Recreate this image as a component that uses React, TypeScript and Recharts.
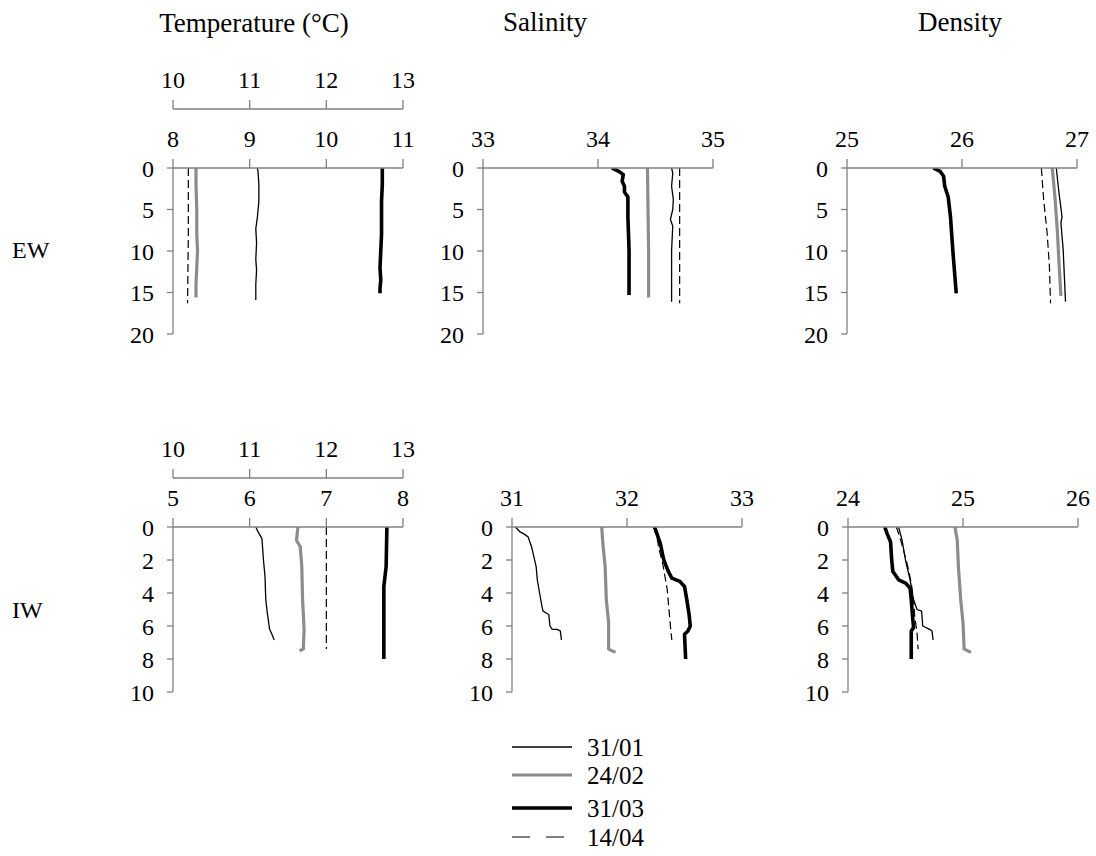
import React from "react"
import { LineChart, Line, XAxis, YAxis } from "recharts"

// [depth (m), value]
type Pt = [number, number]

const DATES = ["31/01", "24/02", "31/03", "14/04"]

// ---- EW ----
const ewTemp3101: Pt[] = [[0, 9.1], [0.5, 9.11], [2, 9.12], [4, 9.12], [5, 9.11], [6, 9.1], [7.3, 9.08], [9, 9.09], [11, 9.08], [12.3, 9.09], [14, 9.08], [15.9, 9.08]]
const ewTemp2402: Pt[] = [[0, 8.3], [2, 8.3], [5, 8.31], [8, 8.31], [10, 8.32], [12, 8.31], [14, 8.3], [15.6, 8.3]]
const ewTemp3103: Pt[] = [[0, 10.73], [2, 10.73], [4, 10.72], [6, 10.72], [8, 10.72], [10, 10.71], [12, 10.7], [13.5, 10.71], [14.5, 10.7], [15.1, 10.7]]
const ewTemp1404: Pt[] = [[0, 10.2], [8, 10.2], [16.3, 10.19]] // read on the 10-13 scale

const ewSal3101: Pt[] = [[0, 34.64], [0.6, 34.65], [2.2, 34.64], [3.8, 34.655], [5, 34.65], [6.2, 34.63], [7, 34.65], [9.9, 34.64], [13, 34.64], [16.1, 34.64]]
const ewSal2402: Pt[] = [[0, 34.43], [5, 34.435], [10, 34.44], [15.6, 34.44]]
const ewSal3103: Pt[] = [[0, 34.12], [0.4, 34.18], [0.8, 34.22], [1.6, 34.21], [2.2, 34.23], [2.9, 34.23], [3.5, 34.26], [5.9, 34.26], [9.9, 34.27], [15.3, 34.27]]
const ewSal1404: Pt[] = [[0, 34.71], [5, 34.71], [10, 34.71], [16.3, 34.71]]

const ewDens3101: Pt[] = [[0, 26.82], [2.6, 26.84], [5.9, 26.87], [6.6, 26.86], [9.9, 26.88], [13, 26.89], [16.1, 26.9]]
const ewDens2402: Pt[] = [[0, 26.785], [3.8, 26.81], [7.8, 26.83], [11.8, 26.845], [15.4, 26.86]]
const ewDens3103: Pt[] = [[0, 25.75], [0.4, 25.81], [1, 25.84], [2.2, 25.85], [3.5, 25.88], [5.9, 25.9], [9.9, 25.92], [15.1, 25.95]]
const ewDens1404: Pt[] = [[0, 26.69], [3.8, 26.71], [7.8, 26.74], [11.8, 26.76], [16.3, 26.77]]

// ---- IW ----
const iwTemp3101: Pt[] = [[0, 6.08], [0.3, 6.11], [0.7, 6.16], [2, 6.18], [3, 6.2], [4.4, 6.21], [5.2, 6.23], [6.2, 6.26], [6.5, 6.29], [6.85, 6.32]]
const iwTemp2402: Pt[] = [[0, 6.63], [0.8, 6.61], [1.2, 6.66], [2.4, 6.68], [4.4, 6.69], [6.2, 6.71], [7.4, 6.7], [7.5, 6.65]]
const iwTemp3103: Pt[] = [[0, 7.79], [2.4, 7.78], [3.6, 7.75], [6.4, 7.75], [8, 7.75]]
const iwTemp1404: Pt[] = [[0, 12.0], [3.7, 12.0], [7.4, 12.0]] // read on the 10-13 scale

const iwSal3101: Pt[] = [[0, 31.03], [0.3, 31.07], [0.4, 31.1], [0.6, 31.14], [1.2, 31.17], [1.8, 31.19], [2.4, 31.21], [3.2, 31.22], [4, 31.24], [4.8, 31.26], [5.1, 31.27], [5.3, 31.32], [6, 31.33], [6.2, 31.35], [6.2, 31.39], [6.3, 31.42], [6.85, 31.43]]
const iwSal2402: Pt[] = [[0, 31.78], [1, 31.79], [2.4, 31.81], [4.4, 31.82], [5.8, 31.84], [7.4, 31.84], [7.6, 31.9]]
const iwSal3103: Pt[] = [[0, 32.24], [0.4, 32.26], [1, 32.29], [2, 32.32], [2.7, 32.36], [3.1, 32.39], [3.3, 32.46], [3.6, 32.5], [4.4, 32.52], [5.3, 32.54], [6, 32.55], [6.3, 32.53], [6.5, 32.5], [8, 32.51]]
const iwSal1404: Pt[] = [[0, 32.23], [0.6, 32.26], [1.4, 32.28], [2.2, 32.31], [3, 32.33], [3.8, 32.35], [4.6, 32.36], [5.4, 32.37], [6.2, 32.38], [6.85, 32.39]]

const iwDens3101: Pt[] = [[0, 24.44], [0.8, 24.47], [2, 24.5], [3.2, 24.54], [4.4, 24.57], [5, 24.6], [5.1, 24.64], [6, 24.65], [6.2, 24.71], [6.3, 24.73], [6.85, 24.74]]
const iwDens2402: Pt[] = [[0, 24.93], [0.8, 24.95], [2.4, 24.96], [4.4, 24.98], [5.8, 25.0], [7.4, 25.01], [7.6, 25.07]]
const iwDens3103: Pt[] = [[0, 24.32], [0.4, 24.34], [0.9, 24.37], [2, 24.38], [2.7, 24.39], [3.2, 24.44], [3.4, 24.5], [3.7, 24.54], [4.4, 24.55], [5.3, 24.56], [6.1, 24.57], [6.3, 24.55], [7.2, 24.55], [8, 24.55]]
const iwDens1404: Pt[] = [[0, 24.42], [0.6, 24.45], [1.6, 24.49], [2.4, 24.52], [3.4, 24.55], [4.4, 24.57], [5.4, 24.58], [6.4, 24.6], [7.4, 24.61]]

// axis ticks
const tempEwTicks = [8, 9, 10, 11]
const tempIwTicks = [5, 6, 7, 8]
const tempUpperTicks = [10, 11, 12, 13]
const salEwTicks = [33, 34, 35]
const salIwTicks = [31, 32, 33]
const densEwTicks = [25, 26, 27]
const densIwTicks = [24, 25, 26]
const ewDepthTicks = [0, 5, 10, 15, 20]
const iwDepthTicks = [0, 2, 4, 6, 8, 10]

const STYLE: Record<string, { stroke: string; width: number; dash?: string }> = {
  "31/01": { stroke: "#000", width: 1.3 },
  "24/02": { stroke: "#8c8c8c", width: 3.2 },
  "31/03": { stroke: "#000", width: 3.6 },
  "14/04": { stroke: "#000", width: 1.2, dash: "8 4" },
}

const FONT = "'Liberation Serif', 'Times New Roman', serif"
const AXIS = { stroke: "#808080", strokeWidth: 1.3 }
const TICK = { fill: "#000", fontSize: 24, fontFamily: FONT }

const rows = (pts: Pt[]) => pts.map(([depth, v]) => ({ depth, v }))

interface PanelProps {
  left: number // x of the y axis
  top: number // y of the lower x axis
  plotH: number
  domain: [number, number]
  ticks: number[]
  depthMax: number
  depthTicks: number[]
  series: Pt[][] // in DATES order
  upperIdx?: number // series read on the upper scale
  lowH: number
  upH?: number
}

const YW = 70
const PLOT_W = 230
const M = { top: 14, right: 26, bottom: 24 }

function Panel({ left, top, plotH, domain, ticks, depthMax, depthTicks, series, upperIdx, lowH, upH = 0 }: PanelProps) {
  const hasUpper = upperIdx !== undefined
  const topH = lowH + (hasUpper ? upH : 0)
  return (
    <div style={{ position: "absolute", left: left - YW, top: top - topH - M.top }}>
      <LineChart
        width={YW + PLOT_W + M.right}
        height={M.top + topH + plotH + M.bottom}
        layout="vertical"
        margin={{ top: M.top, right: M.right, bottom: M.bottom, left: 0 }}
      >
        <XAxis
          xAxisId="low"
          orientation="top"
          type="number"
          domain={domain}
          ticks={ticks}
          interval={0}
          allowDataOverflow
          height={lowH}
          tickSize={9}
          tickMargin={12}
          axisLine={AXIS}
          tickLine={AXIS}
          tick={TICK}
        />
        {hasUpper && (
          <XAxis
            xAxisId="up"
            orientation="top"
            type="number"
            domain={[10, 13]}
            ticks={tempUpperTicks}
            interval={0}
            allowDataOverflow
            height={upH}
            tickSize={9}
            tickMargin={12}
            axisLine={AXIS}
            tickLine={AXIS}
            tick={TICK}
          />
        )}
        <YAxis
          type="number"
          dataKey="depth"
          domain={[0, depthMax]}
          ticks={depthTicks}
          interval={0}
          allowDataOverflow
          width={YW}
          tickSize={6}
          tickMargin={13}
          axisLine={AXIS}
          tickLine={AXIS}
          tick={TICK}
        />
        {series.map((pts, i) => {
          const s = STYLE[DATES[i]]
          return (
            <Line
              key={DATES[i]}
              xAxisId={i === upperIdx ? "up" : "low"}
              data={rows(pts)}
              dataKey="v"
              type="linear"
              stroke={s.stroke}
              strokeWidth={s.width}
              strokeDasharray={s.dash}
              strokeLinejoin="round"
              dot={false}
              activeDot={false}
              isAnimationActive={false}
            />
          )
        })}
      </LineChart>
    </div>
  )
}

export default function App() {
  return (
    <div style={{ position: "absolute", left: 0, top: 0, width: 1096, height: 856, background: "#fff", fontFamily: FONT }}>
      <style>{`.recharts-surface { overflow: visible; }`}</style>
      <Panel left={173} top={168} plotH={166} domain={[8, 11]} ticks={tempEwTicks} depthMax={20} depthTicks={ewDepthTicks}
        series={[ewTemp3101, ewTemp2402, ewTemp3103, ewTemp1404]} upperIdx={3} lowH={59} upH={40} />
      <Panel left={483} top={168} plotH={166} domain={[33, 35]} ticks={salEwTicks} depthMax={20} depthTicks={ewDepthTicks}
        series={[ewSal3101, ewSal2402, ewSal3103, ewSal1404]} lowH={40} />
      <Panel left={847} top={168} plotH={166} domain={[25, 27]} ticks={densEwTicks} depthMax={20} depthTicks={ewDepthTicks}
        series={[ewDens3101, ewDens2402, ewDens3103, ewDens1404]} lowH={40} />

      <Panel left={173} top={527} plotH={165} domain={[5, 8]} ticks={tempIwTicks} depthMax={10} depthTicks={iwDepthTicks}
        series={[iwTemp3101, iwTemp2402, iwTemp3103, iwTemp1404]} upperIdx={3} lowH={49} upH={44} />
      <Panel left={512} top={527} plotH={165} domain={[31, 33]} ticks={salIwTicks} depthMax={10} depthTicks={iwDepthTicks}
        series={[iwSal3101, iwSal2402, iwSal3103, iwSal1404]} lowH={40} />
      <Panel left={848} top={527} plotH={165} domain={[24, 26]} ticks={densIwTicks} depthMax={10} depthTicks={iwDepthTicks}
        series={[iwDens3101, iwDens2402, iwDens3103, iwDens1404]} lowH={40} />

      <svg width={1096} height={856} style={{ position: "absolute", left: 0, top: 0, pointerEvents: "none" }}>
        <g fontFamily={FONT} fontSize={27} fill="#000">
          <text x={254} y={32} textAnchor="middle">Temperature (°C)</text>
          <text x={545} y={31} textAnchor="middle">Salinity</text>
          <text x={960} y={31} textAnchor="middle">Density</text>
          <text x={12} y={258} fontSize={24}>EW</text>
          <text x={12} y={618} fontSize={24}>IW</text>
        </g>
        {DATES.map((d, i) => {
          const s = STYLE[d]
          const y = [747, 775, 808, 837][i]
          return (
            <g key={d}>
              <line x1={512} x2={572} y1={y} y2={y} stroke={s.stroke} strokeWidth={s.width}
                strokeDasharray={s.dash ? "18 16" : undefined} />
              <text x={587} y={y + 9} fontFamily={FONT} fontSize={25}>{d}</text>
            </g>
          )
        })}
      </svg>
    </div>
  )
}
